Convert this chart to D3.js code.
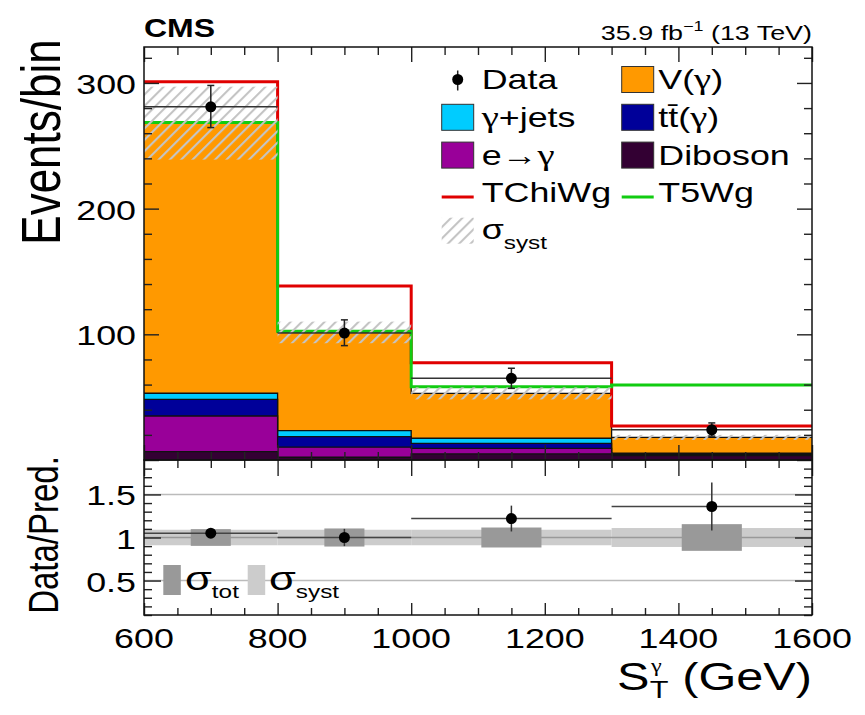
<!DOCTYPE html>
<html><head><meta charset="utf-8">
<script src="https://cdn.jsdelivr.net/npm/d3@7"></script>
<style>
body{margin:0;background:#fff}
text{font-family:"Liberation Sans",Arial,Helvetica,sans-serif;fill:#000}
.gr{font-family:"Liberation Serif","Times New Roman",serif}
</style>
</head><body>
<svg id="c" width="865" height="715"></svg>
<script>
// ---------------- data ----------------
const binEdges   = [600, 800, 1000, 1300, 1600];
const diboson    = [6.6, 2.2, 4.8, 3.6];
const eToGamma   = [28.4, 8.0, 4.5, 0.6];
const ttGamma    = [13.3, 8.4, 4.0, 0.8];
const gammaJets  = [4.8, 4.8, 4.0, 0.5];
const vGamma     = [214.9, 78.1, 35.7, 12.5];
const systUnc    = [29, 8.6, 4.8, 2.0];
const dataCounts = [281, 101, 65, 24];
const dataErrUp  = [17, 10.5, 8, 5.5];
const dataErrDn  = [16.5, 10, 8, 5];
const tchiwg     = [301, 138.5, 77.4, 27.0];
const t5wg       = [268.5, 102.5, 58.3, 59.7];
const ratioVals  = [1.05, 1.00, 1.22, 1.36];
const ratioErr   = [0.055, 0.10, 0.15, 0.28];
const ratioTot   = [0.097, 0.105, 0.116, 0.155];
const ratioSyst  = [0.09, 0.09, 0.09, 0.11];
const mainYTicks = [100, 200, 300];
const ratioYTicks = [0.5, 1, 1.5];
const ratioYLabels = ["0.5", "1", "1.5"];
const xTicks = [600, 800, 1000, 1200, 1400, 1600];
const stackKeys = ["diboson", "eToGamma", "ttGamma", "gammaJets", "vGamma"];
const stackLabels = {diboson:"Diboson", eToGamma:"e\u2192\u03b3", ttGamma:"tt\u0304(\u03b3)", gammaJets:"\u03b3+jets", vGamma:"V(\u03b3)"};
const signalLabels = ["TChiWg", "T5Wg"];

// ---------------- setup ----------------
const SX = 1.28;
const svg = d3.select("#c");
const colors = {diboson:"#330033", eToGamma:"#990099", ttGamma:"#000099", gammaJets:"#00ccff", vGamma:"#ff9900"};
const RED = "#e00000", GREEN = "#11cc11";

const x  = d3.scaleLinear().domain([600, 1600]).range([144, 812]);
const y  = d3.scaleLinear().domain([0, 328.6]).range([460, 47]);
const yr = d3.scaleLinear().domain([0.1, 1.9]).range([615, 460]);

function stext(parent, x0, y0, str, size, anchor, weight, sx) {
  return parent.append("text")
    .attr("transform", `translate(${x0},${y0}) scale(${sx || SX},1)`)
    .attr("text-anchor", anchor || "start")
    .attr("font-size", size)
    .attr("font-weight", weight || "normal")
    .text(str);
}
// label where Greek gamma is drawn in a serif face (like ROOT's Symbol font)
function gtext(parent, x0, y0, str, size) {
  const t = parent.append("text")
    .attr("transform", `translate(${x0},${y0}) scale(${SX},1)`)
    .attr("font-size", size);
  str.split(/(\u03b3)/).filter(s => s.length).forEach(s => {
    const ts = t.append("tspan").text(s);
    if (s === "\u03b3") ts.attr("class", "gr").attr("font-size", size * 1.08);
  });
  return t;
}

const defs = svg.append("defs");
const pat = defs.append("pattern").attr("id", "hatch").attr("patternUnits", "userSpaceOnUse")
  .attr("width", 8).attr("height", 8).attr("patternTransform", "rotate(45)");
pat.append("line").attr("x1", 1).attr("y1", 0).attr("x2", 1).attr("y2", 8)
  .attr("stroke", "#c4c4c4").attr("stroke-width", 2.2);
defs.append("clipPath").attr("id", "clipMain").append("rect")
  .attr("x", 144).attr("y", 47).attr("width", 668).attr("height", 413);
defs.append("clipPath").attr("id", "clipRatio").append("rect")
  .attr("x", 144).attr("y", 460).attr("width", 668).attr("height", 155);

const nb = binEdges.length - 1;
const bins = d3.range(nb).map(i => ({
  lo: binEdges[i], hi: binEdges[i + 1],
  diboson: diboson[i], eToGamma: eToGamma[i], ttGamma: ttGamma[i],
  gammaJets: gammaJets[i], vGamma: vGamma[i]
}));
const series = d3.stack().keys(stackKeys)(bins);
const totals = bins.map((b, i) => series[series.length - 1][i][1]);

function stepPts(vals) {
  const pts = [];
  vals.forEach((v, i) => { pts.push([binEdges[i], v]); pts.push([binEdges[i + 1], v]); });
  return pts;
}
const area = d3.area().x(d => x(d[0])).y0(y(0)).y1(d => y(d[1]));
const line = d3.line().x(d => x(d[0])).y(d => y(d[1]));

// ---------------- main panel ----------------
const gm = svg.append("g").attr("clip-path", "url(#clipMain)");
series.slice().reverse().forEach(s => {
  const tops = s.map(d => d[1]);
  gm.append("path").attr("d", area(stepPts(tops))).attr("fill", colors[s.key]);
  gm.append("path").attr("d", line(stepPts(tops))).attr("fill", "none")
    .attr("stroke", "#111").attr("stroke-width", 1.3);
});
gm.append("path").attr("d", line(stepPts(tchiwg))).attr("fill", "none")
  .attr("stroke", RED).attr("stroke-width", 3);
gm.append("path").attr("d", line(stepPts(t5wg))).attr("fill", "none")
  .attr("stroke", GREEN).attr("stroke-width", 3);
gm.selectAll("rect.hatch").data(bins).join("rect").attr("class", "hatch")
  .attr("x", d => x(d.lo)).attr("width", d => x(d.hi) - x(d.lo))
  .attr("y", (d, i) => y(totals[i] + systUnc[i]))
  .attr("height", (d, i) => y(totals[i] - systUnc[i]) - y(totals[i] + systUnc[i]))
  .attr("fill", "url(#hatch)");
bins.forEach((b, i) => {
  const cx = x((b.lo + b.hi) / 2), cy = y(dataCounts[i]);
  gm.append("line").attr("x1", x(b.lo)).attr("x2", x(b.hi)).attr("y1", cy).attr("y2", cy)
    .attr("stroke", "#333").attr("stroke-width", 1.5);
  const yt = y(dataCounts[i] + dataErrUp[i]), yb = y(dataCounts[i] - dataErrDn[i]);
  gm.append("line").attr("x1", cx).attr("x2", cx).attr("y1", yt).attr("y2", yb)
    .attr("stroke", "#222").attr("stroke-width", 1.5);
  [yt, yb].forEach(yy => gm.append("line").attr("x1", cx - 3.5).attr("x2", cx + 3.5)
    .attr("y1", yy).attr("y2", yy).attr("stroke", "#222").attr("stroke-width", 1.5));
  gm.append("circle").attr("cx", cx).attr("cy", cy).attr("r", 5.5).attr("fill", "#000");
});

// ---------------- ratio panel ----------------
const gr = svg.append("g").attr("clip-path", "url(#clipRatio)");
gr.selectAll("rect.syst").data(bins).join("rect").attr("class", "syst")
  .attr("x", d => x(d.lo)).attr("width", d => x(d.hi) - x(d.lo))
  .attr("y", (d, i) => yr(1 + ratioSyst[i])).attr("height", (d, i) => yr(1 - ratioSyst[i]) - yr(1 + ratioSyst[i]))
  .attr("fill", "#cccccc");
[0.5, 1.5].forEach(v => gr.append("line").attr("x1", 144).attr("x2", 812)
  .attr("y1", yr(v)).attr("y2", yr(v)).attr("stroke", "#bbbbbb").attr("stroke-width", 1.5));
gr.append("line").attr("x1", 144).attr("x2", 812).attr("y1", yr(1)).attr("y2", yr(1))
  .attr("stroke", "#999").attr("stroke-width", 1.5);
gr.selectAll("rect.tot").data(bins).join("rect").attr("class", "tot")
  .attr("x", d => x((d.lo + d.hi) / 2 - 0.15 * (d.hi - d.lo))).attr("width", d => x(d.lo + 0.3 * (d.hi - d.lo)) - x(d.lo))
  .attr("y", (d, i) => yr(1 + ratioTot[i])).attr("height", (d, i) => yr(1 - ratioTot[i]) - yr(1 + ratioTot[i]))
  .attr("fill", "#999999");
bins.forEach((b, i) => {
  const cx = x((b.lo + b.hi) / 2), cy = yr(ratioVals[i]);
  gr.append("line").attr("x1", x(b.lo)).attr("x2", x(b.hi)).attr("y1", cy).attr("y2", cy)
    .attr("stroke", "#444").attr("stroke-width", 1.5);
  gr.append("line").attr("x1", cx).attr("x2", cx)
    .attr("y1", yr(ratioVals[i] + ratioErr[i])).attr("y2", yr(ratioVals[i] - ratioErr[i]))
    .attr("stroke", "#333").attr("stroke-width", 1.5);
  gr.append("circle").attr("cx", cx).attr("cy", cy).attr("r", 5.5).attr("fill", "#000");
});

// ---------------- frames & ticks ----------------
function ticks(gen, tf, vals, size) {
  const g = svg.append("g").attr("transform", tf)
    .call(gen.tickValues(vals).tickSize(size).tickSizeOuter(0).tickFormat(""));
  g.select(".domain").remove();
  g.selectAll("line").attr("stroke", "#222").attr("stroke-width", 1.4);
  return g;
}
const xMinor = d3.range(600, 1601, 50).filter(v => (v - 600) % 200 !== 0);
const yMinor = d3.range(0, 321, 20).filter(v => v % 100 !== 0);
const rMinor = d3.range(1, 19).map(k => k / 10).filter(v => Math.round(v * 10) % 5 !== 0);
const rMajor = [0.5, 1, 1.5];
ticks(d3.axisBottom(x), "translate(0,460)", xTicks, -15);
ticks(d3.axisBottom(x), "translate(0,460)", xMinor, -8);
ticks(d3.axisTop(x), "translate(0,47)", xTicks, -15);
ticks(d3.axisTop(x), "translate(0,47)", xMinor, -8);
ticks(d3.axisLeft(y), "translate(144,0)", [0, 100, 200, 300], -15);
ticks(d3.axisLeft(y), "translate(144,0)", yMinor, -8);
ticks(d3.axisRight(y), "translate(812,0)", [0, 100, 200, 300], -15);
ticks(d3.axisRight(y), "translate(812,0)", yMinor, -8);
ticks(d3.axisTop(x), "translate(0,460)", xTicks, -16);
ticks(d3.axisTop(x), "translate(0,460)", xMinor, -8);
ticks(d3.axisBottom(x), "translate(0,615)", xTicks, -12);
ticks(d3.axisBottom(x), "translate(0,615)", xMinor, -7);
ticks(d3.axisLeft(yr), "translate(144,0)", rMajor, -17);
ticks(d3.axisLeft(yr), "translate(144,0)", rMinor, -8);
ticks(d3.axisRight(yr), "translate(812,0)", rMajor, -17);
ticks(d3.axisRight(yr), "translate(812,0)", rMinor, -8);

svg.append("rect").attr("x", 144).attr("y", 47).attr("width", 668).attr("height", 413)
  .attr("fill", "none").attr("stroke", "#111").attr("stroke-width", 1.5);
svg.append("rect").attr("x", 144).attr("y", 460).attr("width", 668).attr("height", 155)
  .attr("fill", "none").attr("stroke", "#111").attr("stroke-width", 1.5);

// ---------------- tick labels ----------------
const tl = svg.append("g");
mainYTicks.forEach(v => stext(tl, 136, y(v) + 11, String(v), 28, "end"));
ratioYTicks.forEach((v, i) => stext(tl, 136, yr(v) + 11, ratioYLabels[i], 28, "end"));
xTicks.forEach(v => stext(tl, x(v), 648, String(v), 28, "middle"));

// axis titles
svg.append("text").attr("transform", `translate(60,142) rotate(-90) scale(1,${SX})`)
  .attr("text-anchor", "middle").attr("font-size", 44).text("Events/bin");
svg.append("text").attr("transform", `translate(58,535) rotate(-90) scale(1,${SX})`)
  .attr("text-anchor", "middle").attr("font-size", 33).text("Data/Pred.");

// x title: S_T^gamma (GeV)
const xtG = svg.append("g").attr("transform", `translate(812,0) scale(${SX},1)`);
const xtMain = xtG.append("text").attr("x", 0).attr("y", 690).attr("text-anchor", "end").attr("font-size", 38)
  .text("(GeV)");
const wGeV = xtMain.node().getComputedTextLength();
const xS = -wGeV - 10 - 16 - 25;
xtG.append("text").attr("x", xS).attr("y", 690).attr("font-size", 38).text("S");
xtG.append("text").attr("x", xS + 25.5).attr("y", 698).attr("font-size", 24).text("T");
xtG.append("text").attr("class", "gr").attr("x", xS + 26.5).attr("y", 672).attr("font-size", 19).text("\u03b3");

// CMS & lumi
stext(svg, 144, 37, "CMS", 26, "start", "bold", 1.23);
const lumi = svg.append("text").attr("transform", `translate(812,40) scale(${SX},1)`)
  .attr("text-anchor", "end").attr("font-size", 21);
lumi.append("tspan").text("35.9 fb");
lumi.append("tspan").attr("font-size", 14).attr("dy", -9).text("\u22121");
lumi.append("tspan").attr("dy", 9).text(" (13 TeV)");

// ---------------- legend ----------------
const lg = svg.append("g");
const colSym = [441.7, 621.7], colTxt = [481.7, 658.3], symW = 32, symH = 26;
const rowY = d3.range(5).map(i => 79.5 + i * 37.8);
const legendItems = [
  {row: 0, col: 0, type: "data", label: "Data"},
  {row: 0, col: 1, type: "box", key: "vGamma"},
  {row: 1, col: 0, type: "box", key: "gammaJets"},
  {row: 1, col: 1, type: "box", key: "ttGamma"},
  {row: 2, col: 0, type: "box", key: "eToGamma"},
  {row: 2, col: 1, type: "box", key: "diboson"},
  {row: 3, col: 0, type: "line", color: RED, label: signalLabels[0]},
  {row: 3, col: 1, type: "line", color: GREEN, label: signalLabels[1]},
  {row: 4, col: 0, type: "hatch"}
];
legendItems.forEach(it => {
  const sx = colSym[it.col], cy = rowY[it.row];
  if (it.type === "data") {
    lg.append("line").attr("x1", sx + symW / 2).attr("x2", sx + symW / 2).attr("y1", cy - 9).attr("y2", cy + 11)
      .attr("stroke", "#222").attr("stroke-width", 1.5);
    lg.append("circle").attr("cx", sx + symW / 2).attr("cy", cy).attr("r", 5.5).attr("fill", "#000");
  } else if (it.type === "box") {
    lg.append("rect").attr("x", sx).attr("y", cy - symH / 2).attr("width", symW).attr("height", symH)
      .attr("fill", colors[it.key]).attr("stroke", "#333").attr("stroke-width", 1);
  } else if (it.type === "line") {
    lg.append("line").attr("x1", sx).attr("x2", sx + symW).attr("y1", cy + 4).attr("y2", cy + 4)
      .attr("stroke", it.color).attr("stroke-width", 3);
  } else if (it.type === "hatch") {
    lg.append("rect").attr("x", sx).attr("y", cy - symH / 2).attr("width", symW).attr("height", symH)
      .attr("fill", "url(#hatch)");
  }
  if (it.type === "hatch") {
    const t = lg.append("text").attr("transform", `translate(${colTxt[it.col]},${cy + 8}) scale(${SX},1)`)
      .attr("font-size", 28);
    t.append("tspan").text("\u03c3");
    t.append("tspan").attr("font-size", 19).attr("dy", 10).text("syst");
  } else {
    const label = it.label || stackLabels[it.key];
    gtext(lg, colTxt[it.col], cy + 9.5, label, 28);
  }
});

// ratio legend
const rl = svg.append("g");
const rLeg = [{x: 163.3, fill: "#999999", sub: "tot", tx: 185}, {x: 247.7, fill: "#cccccc", sub: "syst", tx: 269}];
rLeg.forEach(r => {
  rl.append("rect").attr("x", r.x).attr("y", 565).attr("width", 17.5).attr("height", 30).attr("fill", r.fill);
  const t = rl.append("text").attr("transform", `translate(${r.tx},590) scale(${SX},1)`).attr("font-size", 34);
  t.append("tspan").text("\u03c3");
  t.append("tspan").attr("font-size", 19).attr("dy", 8).text(r.sub);
});
</script>
</body></html>
